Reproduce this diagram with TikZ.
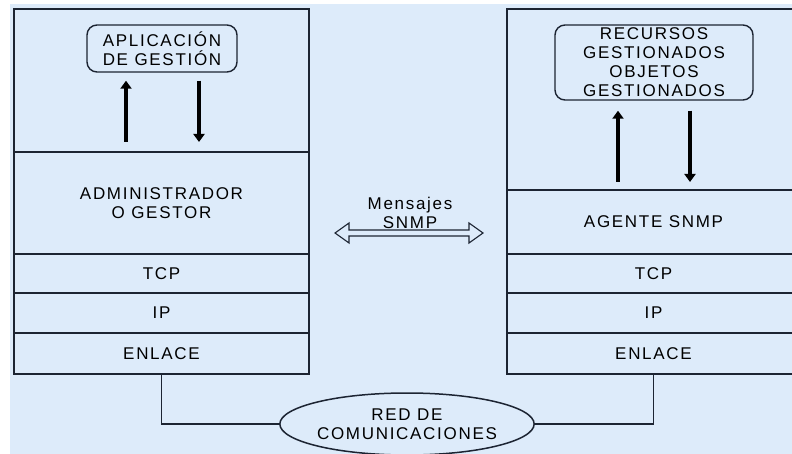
\documentclass[tikz,border=0pt]{standalone}
\usepackage{fontspec}
\setmainfont{Liberation Sans}[LetterSpace=10]
\usetikzlibrary{arrows.meta,shapes.geometric,calc}

\definecolor{paper}{RGB}{221,235,250}
\definecolor{ink}{RGB}{28,36,50}
\newcommand\lbl{\fontsize{17}{19}\selectfont}

\tikzset{
  layer/.style={draw=ink, line width=1.8pt, fill=paper, inner sep=0pt,
    outer sep=0pt, align=center, font=\lbl},
  appbox/.style={draw=ink, line width=1.4pt, rounded corners=10pt, fill=paper,
    inner sep=0pt, align=center, font=\lbl},
  flow/.style={draw=black, line width=3.6pt, -{Triangle[length=8pt,width=11pt]}},
  net/.style={draw=ink, line width=1.8pt},
  cloud/.style={ellipse, draw=ink, line width=1.5pt, fill=paper, inner sep=0pt,
    align=center, font=\lbl},
  caption/.style={align=center, font=\lbl, inner sep=0pt},
}

\begin{document}
\begin{tikzpicture}[x=1pt, y=-1pt]
  \useasboundingbox (0,0) rectangle (792,454);
  \clip (0,0) rectangle (792,454);
  \fill[white] (0,0) rectangle (792,454);
  \fill[paper] (10,4) rectangle (792,454);

  % manager stack
  \node[layer, minimum width=295pt, minimum height=143pt] (ltop) at (161.5,80.5) {};
  \node[layer, minimum width=295pt, minimum height=102pt] (ladm) at (161.5,203) {ADMINISTRADOR\\O GESTOR};
  \node[layer, minimum width=295pt, minimum height=39pt] (ltcp) at (161.5,273.5) {TCP};
  \node[layer, minimum width=295pt, minimum height=40pt] (lip) at (161.5,313) {IP};
  \node[layer, minimum width=295pt, minimum height=41pt] (llink) at (161.5,353.5) {ENLACE};
  \node[appbox, minimum width=150pt, minimum height=47pt] (lapp) at (162,48.5) {APLICACIÓN\\DE GESTIÓN};

  % agent stack
  \node[layer, minimum width=293pt, minimum height=181pt] (rtop) at (653.5,99.5) {};
  \node[layer, minimum width=293pt, minimum height=64pt] (ragt) at (653.5,222) {AGENTE SNMP};
  \node[layer, minimum width=293pt, minimum height=39pt] (rtcp) at (653.5,273.5) {TCP};
  \node[layer, minimum width=293pt, minimum height=40pt] (rip) at (653.5,313) {IP};
  \node[layer, minimum width=293pt, minimum height=41pt] (rlink) at (653.5,353.5) {ENLACE};
  \node[appbox, minimum width=198pt, minimum height=75pt] (rapp) at (654,62.5) {RECURSOS\\GESTIONADOS\\OBJETOS\\GESTIONADOS};

  % requests and responses between application and manager / agent
  \draw[flow] ($(ladm.north)+(-35.5,-10)$) -- ($(lapp.south)+(-36,8)$);
  \draw[flow] ($(lapp.south)+(37,8)$) -- ($(ladm.north)+(37.5,-10)$);
  \draw[flow] ($(ragt.north)+(-35.5,-8)$) -- ($(rapp.south)+(-36,10)$);
  \draw[flow] ($(rapp.south)+(36,10)$) -- ($(ragt.north)+(36.5,-8)$);

  % SNMP messages
  \node[caption] (msg) at (410,212.5) {Mensajes\\SNMP};
  \draw[draw=ink, line width=1.1pt, fill=paper]
    (335,233) -- (349,223) -- (349,230) -- (469,230) -- (469,223) -- (483,233)
    -- (469,243) -- (469,236) -- (349,236) -- (349,243) -- cycle;

  % communication network
  \node[cloud, minimum width=222pt, minimum height=62pt] (red) at (407,424) {RED DE\\COMUNICACIONES};
  \draw[net] (llink.south) |- (red.west);
  \draw[net] (rlink.south) |- (red.east);
\end{tikzpicture}
\end{document}
